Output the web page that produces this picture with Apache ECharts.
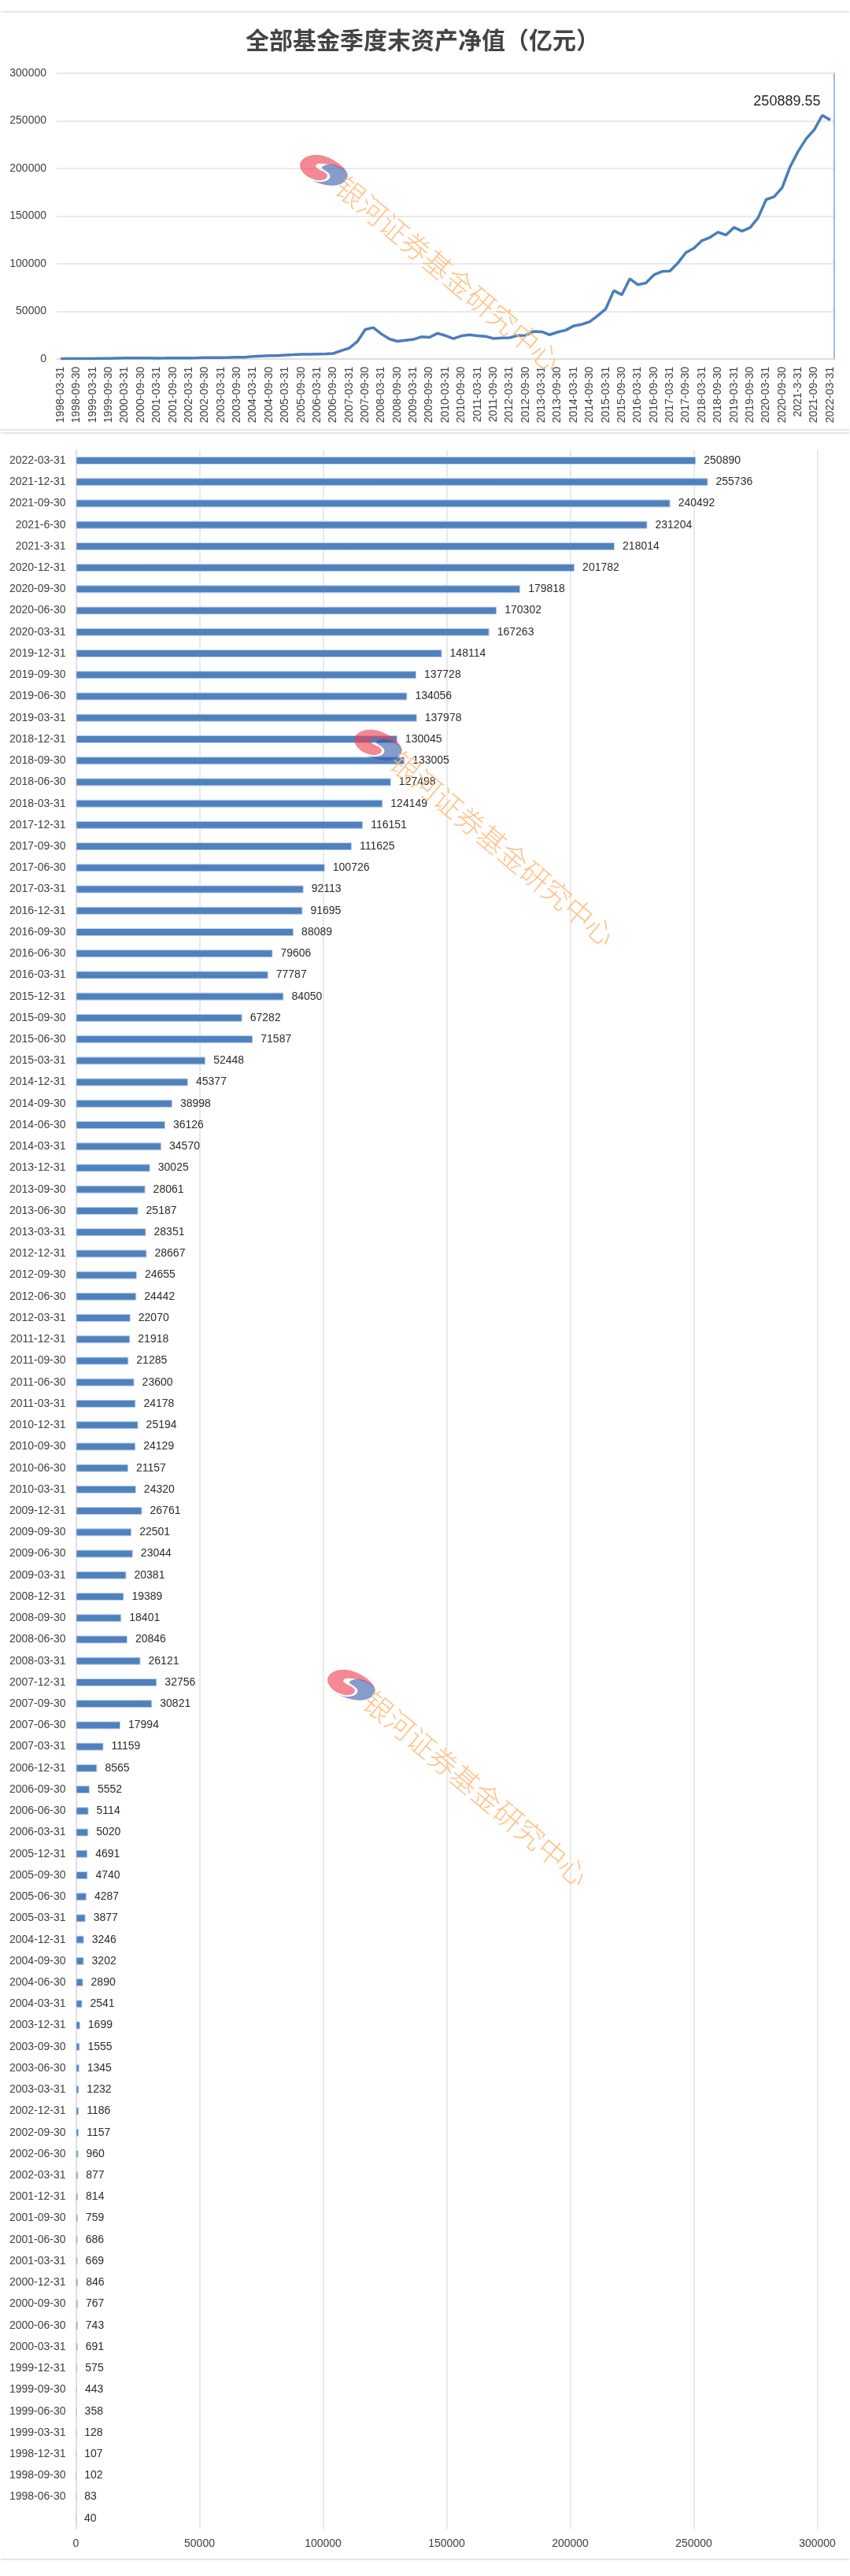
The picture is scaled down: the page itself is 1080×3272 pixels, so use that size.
<!DOCTYPE html>
<html>
<head>
<meta charset="utf-8">
<style>html,body{margin:0;padding:0;background:#fff}#c{width:1080px;height:3272px}</style>
<script src="https://cdn.jsdelivr.net/npm/echarts@6/dist/echarts.min.js"></script>
</head>
<body>
<div id="c"></div>
<script>
const chartTitle = '全部基金季度末资产净值（亿元）';
const watermarkText = '银河证券基金研究中心';
const quarters = ['1998-03-31','1998-06-30','1998-09-30','1998-12-31','1999-03-31','1999-06-30','1999-09-30','1999-12-31','2000-03-31','2000-06-30','2000-09-30','2000-12-31','2001-03-31','2001-06-30','2001-09-30','2001-12-31','2002-03-31','2002-06-30','2002-09-30','2002-12-31','2003-03-31','2003-06-30','2003-09-30','2003-12-31','2004-03-31','2004-06-30','2004-09-30','2004-12-31','2005-03-31','2005-06-30','2005-09-30','2005-12-31','2006-03-31','2006-06-30','2006-09-30','2006-12-31','2007-03-31','2007-06-30','2007-09-30','2007-12-31','2008-03-31','2008-06-30','2008-09-30','2008-12-31','2009-03-31','2009-06-30','2009-09-30','2009-12-31','2010-03-31','2010-06-30','2010-09-30','2010-12-31','2011-03-31','2011-06-30','2011-09-30','2011-12-31','2012-03-31','2012-06-30','2012-09-30','2012-12-31','2013-03-31','2013-06-30','2013-09-30','2013-12-31','2014-03-31','2014-06-30','2014-09-30','2014-12-31','2015-03-31','2015-06-30','2015-09-30','2015-12-31','2016-03-31','2016-06-30','2016-09-30','2016-12-31','2017-03-31','2017-06-30','2017-09-30','2017-12-31','2018-03-31','2018-06-30','2018-09-30','2018-12-31','2019-03-31','2019-06-30','2019-09-30','2019-12-31','2020-03-31','2020-06-30','2020-09-30','2020-12-31','2021-3-31','2021-6-30','2021-09-30','2021-12-31','2022-03-31'];
const navValues = [40,83,102,107,128,358,443,575,691,743,767,846,669,686,759,814,877,960,1157,1186,1232,1345,1555,1699,2541,2890,3202,3246,3877,4287,4740,4691,5020,5114,5552,8565,11159,17994,30821,32756,26121,20846,18401,19389,20381,23044,22501,26761,24320,21157,24129,25194,24178,23600,21285,21918,22070,24442,24655,28667,28351,25187,28061,30025,34570,36126,38998,45377,52448,71587,67282,84050,77787,79606,88089,91695,92113,100726,111625,116151,124149,127498,133005,130045,137978,134056,137728,148114,167263,170302,179818,201782,218014,231204,240492,255736,250890];
const latestExact = 250889.55;
const barLabels = quarters.map((q, i) => i === 0 ? '' : q);
const lineValues = navValues.map((v, i) => i === navValues.length - 1 ? {
  value: latestExact,
  label: {show: true, position: 'top', offset: [-55, -9], fontSize: 18, color: '#262626', fontFamily: 'Liberation Sans'}
} : v);

const redPath = 'M3,62 C12,30 55,18 100,32 C140,45 172,70 185,97 C165,78 130,62 95,60 C72,58 58,62 66,74 C76,86 106,88 108,106 C106,122 80,130 52,118 C25,108 3,88 3,62 Z';
const bluePath = 'M185,100 C188,125 160,145 125,143 C95,142 68,132 48,122 C78,134 110,130 118,112 C122,95 98,88 86,76 C92,62 120,58 145,68 C165,76 180,88 185,100 Z';
echarts.graphic.registerShape('logoRed', echarts.graphic.extendPath(redPath, {}));
echarts.graphic.registerShape('logoBlue', echarts.graphic.extendPath(bluePath, {}));
function watermark(lx, ly, tx, ty) {
  return [
    {type:'logoRed', z:100, x:lx, y:ly, scaleX:1/3, scaleY:1/3, style:{fill:'#ee3f50', opacity:.62}},
    {type:'logoBlue', z:100, x:lx, y:ly, scaleX:1/3, scaleY:1/3, style:{fill:'#2f55a4', opacity:.58}},
    {type:'text', z:100, x:tx, y:ty, rotation:-40*Math.PI/180, style:{text:watermarkText, font:'300 36px "Noto Sans CJK SC"', fill:'#ffb877', opacity:.85, textAlign:'center', textVerticalAlign:'middle'}}
  ];
}
function rule(y) {
  return {type:'line', z:1, shape:{x1:1, y1:y, x2:1079, y2:y}, style:{stroke:'#e4e4e4', lineWidth:2}};
}

const plainNumber = v => String(v);
const axisFont = {fontFamily:'Liberation Sans', fontSize:14, color:'#404040'};
const gridLine = {show:true, lineStyle:{color:'#e2e2e2', width:1.5}};
const chart = echarts.init(document.getElementById('c'), null, {renderer:'canvas'});
chart.setOption({
  backgroundColor:'#fff',
  animation:false,
  title:{text:chartTitle, left:532, top:31, textAlign:'center', textStyle:{fontFamily:'Noto Sans CJK SC', fontSize:30, fontWeight:'bold', color:'#444'}},
  grid:[
    {left:72, top:93, width:988, height:362.7},
    {left:96.5, top:571.4, width:942, height:2641}
  ],
  xAxis:[
    {type:'category', gridIndex:0, data:quarters, boundaryGap:true,
     axisLine:{lineStyle:{color:'#dcdcdc', width:1.5}}, axisTick:{show:false},
     axisLabel:{...axisFont, rotate:90, interval:1, margin:10}, splitLine:{show:false}},
    {type:'value', gridIndex:1, min:0, max:300000, interval:50000,
     axisLine:{show:false}, axisTick:{show:false},
     axisLabel:{...axisFont, margin:12, formatter:plainNumber}, splitLine:gridLine}
  ],
  yAxis:[
    {type:'value', gridIndex:0, min:0, max:300000, interval:50000,
     axisLine:{show:false}, axisTick:{show:false},
     axisLabel:{...axisFont, margin:13, formatter:plainNumber}, splitLine:gridLine},
    {type:'value', gridIndex:0, position:'right', min:0, max:300000, interval:300000,
     axisLine:{show:true, lineStyle:{color:'#7ba5d6', width:1.5}}, axisTick:{show:false},
     axisLabel:{show:false}, splitLine:{show:false}},
    {type:'category', gridIndex:1, data:barLabels,
     axisLine:{lineStyle:{color:'#dcdcdc', width:1.5}}, axisTick:{show:false},
     axisLabel:{...axisFont, margin:13, interval:0}, splitLine:{show:false}}
  ],
  series:[
    {type:'line', xAxisIndex:0, yAxisIndex:0, data:lineValues, symbol:'circle', symbolSize:0, showSymbol:true, showAllSymbol:true,
     label:{show:false}, lineStyle:{color:'#4a7ebb', width:3.5}, z:3},
    {type:'bar', xAxisIndex:1, yAxisIndex:2, data:navValues, barWidth:10,
     itemStyle:{color:'#4f81bd', borderColor:'#bfd2ea', borderWidth:1},
     label:{show:true, position:'right', distance:10, fontFamily:'Liberation Sans', fontSize:14, color:'#2b2b2b', formatter:p => String(p.value)}, z:3}
  ],
  graphic:{elements:[
    rule(15), rule(546), rule(550), rule(3251),
    ...watermark(380,188,570,348),
    ...watermark(449,918,639,1078),
    ...watermark(415,2112,605,2272)
  ]}
});
</script>
</body>
</html>
